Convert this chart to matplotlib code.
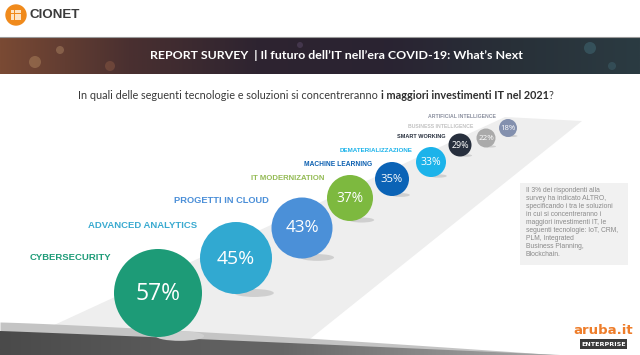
import numpy as np
import matplotlib.pyplot as plt
from matplotlib.patches import Circle, Ellipse, Rectangle, Polygon
from matplotlib.colors import LinearSegmentedColormap

# survey answers, biggest first
categories = ["CYBERSECURITY", "ADVANCED ANALYTICS", "PROGETTI IN CLOUD",
              "IT MODERNIZATION", "MACHINE LEARNING", "DEMATERIALIZZAZIONE",
              "SMART WORKING", "BUSINESS INTELLIGENCE", "ARTIFICIAL INTELLIGENCE"]
values = [57, 45, 43, 37, 35, 33, 29, 22, 18]

colors = ["#1d9b77", "#31a9d1", "#4b90d8", "#7db93f", "#0b63b6",
          "#1cb3ea", "#272f3d", "#aaaaaa", "#8390ae"]
label_colors = ["#1d9b77", "#3aaad0", "#4b8fd8", "#94bb55", "#0b5fb0",
                "#1cb3ea", "#272f3d", "#c2c2c2", "#8a8f9e"]

title = "REPORT SURVEY  | Il futuro dell\u2019IT nell\u2019era COVID-19: What\u2019s Next"
question = ["In quali delle seguenti tecnologie e soluzioni si concentreranno ",
            "i maggiori investimenti IT nel 2021", "?"]
note_lines = ["Il 3% dei rispondenti alla",
              "survey ha indicato ALTRO,",
              "specificando i tra le soluzioni",
              "in cui si concentreranno i",
              "maggiori investimenti IT, le",
              "seguenti tecnologie: IoT, CRM,",
              "PLM, Integrated",
              "Business Planning,",
              "Blockchain."]

# layout of the bubbles along the ramp (pixels)
bubble_x = [158, 236, 302, 350, 392, 431, 460, 486, 508]
bubble_y = [293, 258, 228, 198, 179, 162, 145, 138, 128]
bubble_r = [44, 36, 30.5, 23, 17, 15, 11.5, 9.5, 9]

W, H = 640, 355
fig = plt.figure(figsize=(W / 100, H / 100), dpi=100)
ax = fig.add_axes([0, 0, 1, 1])
ax.set_xlim(0, W)
ax.set_ylim(H, 0)
ax.axis("off")

# header: logo
ax.add_patch(Circle((16, 15), 10, color="#f08a1c", zorder=3))
for i in (-1, 0, 1):
    for j in (-1, 0, 1):
        ax.add_patch(Rectangle((16 + 3.6 * i - 1.5, 15 + 3.6 * j - 1.5), 3.0, 3.0,
                               color="#fde3c4", lw=0, zorder=4))
ax.text(29, 15.5, "CIONET", fontsize=9.6, fontweight="bold", color="#3b3b3b",
        family="Liberation Sans", va="center", ha="left")

# banner
banner = LinearSegmentedColormap.from_list(
    "banner", ["#7a4a34", "#4a3030", "#2e2430", "#2a2332", "#283038", "#2b3b42"])
grad = np.linspace(0, 1, 256)[None, :]
ax.imshow(grad, cmap=banner, extent=[0, W, 74, 37], aspect="auto", zorder=1)
for cx, cy, rr, c, a in [(35, 62, 6, "#c9a070", 0.35), (60, 50, 4, "#d8b080", 0.3),
                         (110, 66, 5, "#b07050", 0.3), (300, 45, 3, "#8a70a0", 0.25),
                         (590, 48, 6, "#5aa0b0", 0.25), (612, 66, 4, "#5aa0b0", 0.2)]:
    ax.add_patch(Circle((cx, cy), rr, color=c, alpha=a, zorder=2, lw=0))
ax.plot([0, W], [37, 37], color="#9a9a9a", lw=0.8, zorder=2)
ax.text(336, 55.5, title, fontsize=8.9, fontweight="bold", color="white",
        family="Lato", ha="center", va="center", zorder=3)

# question with bold part
qs = 7.8
t = ax.text(78, 101, question[0], fontsize=qs, color="#3a3a3a", family="Lato",
            ha="left", va="bottom")
t = ax.annotate(question[1], xy=(1, 0), xycoords=t, fontsize=qs, fontweight="bold",
                color="#2e2e2e", family="Lato", ha="left", va="bottom")
ax.annotate(question[2], xy=(1, 0), xycoords=t, fontsize=qs, color="#3a3a3a",
            family="Lato", ha="left", va="bottom")

# ramp
ax.add_patch(Polygon([(0, 350), (505, 117), (582, 121), (290, 355), (0, 355)],
                     closed=True, color="#eeeeee", lw=0, zorder=1))

# bottom swoosh
xs = np.linspace(0, 560, 200)
light_top = 322 + 33 * (xs / 560) ** 1.2
ax.fill_between(xs, light_top, H, color="#c4c4c4", lw=0, zorder=2)
dark_top = 331 + 24 * (xs / 560) ** 1.05
band = ax.fill_between(xs, dark_top, H, color="none", lw=0, zorder=2)
swoosh = LinearSegmentedColormap.from_list("swoosh", ["#4a4a4a", "#666666", "#a8a8a8"])
img = ax.imshow(grad, cmap=swoosh, extent=[0, 560, H, 320], aspect="auto", zorder=2)
img.set_clip_path(band.get_paths()[0], transform=ax.transData)
ax.set_xlim(0, W)
ax.set_ylim(H, 0)

# bubbles
for i, (cat, v) in enumerate(zip(categories, values)):
    x, y, r = bubble_x[i], bubble_y[i], bubble_r[i]
    ax.add_patch(Ellipse((x + 0.5 * r, y + r - 1), 1.1 * r, 0.22 * r,
                         color="#cfcfcf", lw=0, zorder=3))
    ax.add_patch(Circle((x, y), r, color=colors[i], lw=0, zorder=4))
    ax.text(x, y + 0.5, f"{v}%", fontsize=2.8 + 0.31 * r, color="white",
            family="Open Sans", ha="center", va="center", zorder=5)
    label_y = y - r + 3 if r > 10 else y - r - 2.5
    if r > 40:
        label_y += 5
    ax.text(x - r - 3, label_y, cat, fontsize=min(6.8, 2.4 + 0.14 * r),
            fontweight="bold", color=label_colors[i], family="Liberation Sans",
            ha="right", va="center", zorder=5)

# note box
ax.add_patch(Rectangle((520, 183), 108, 82, color="#f1f1f1", lw=0, zorder=3))
ax.text(526, 187, "\n".join(note_lines), fontsize=4.9, color="#8a8a8a",
        family="Liberation Sans", ha="left", va="top", linespacing=1.2, zorder=4)

# aruba logo
ax.text(603, 330, "aruba.it", fontsize=9.5, fontweight="bold", color="#ee7d2a",
        family="DejaVu Sans", ha="center", va="center", zorder=5)
ax.add_patch(Rectangle((580, 339), 47, 10, color="#3a3a3a", lw=0, zorder=5))
ax.text(603.5, 344.3, "ENTERPRISE", fontsize=4.6, color="white", fontweight="bold",
        family="DejaVu Sans", ha="center", va="center", zorder=6)

fig.savefig("out.png", dpi=100)
